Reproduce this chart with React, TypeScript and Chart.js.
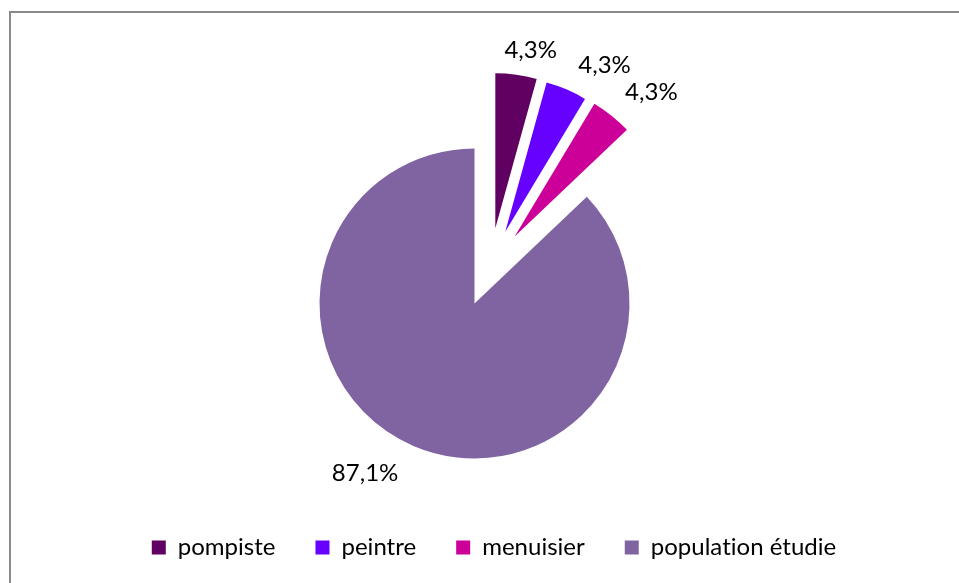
import React, { useEffect, useRef } from "react";
import { Chart, registerables } from "chart.js";

Chart.register(...registerables);

// ---- data ----
const categories = ["pompiste", "peintre", "menuisier", "population étudie"];
const percentages = [4.3, 4.3, 4.3, 87.1];
const sliceColors = ["#600060", "#6600FF", "#CC0099", "#8064A2"];

// ---- style ----
const FONT = "Lato, 'Open Sans', sans-serif";
const TEXT_SIZE = 24;
const PIE_RADIUS = 155;
const PIE_CENTER_Y = 303.5;
const LEGEND_ROW_Y = 547.5;
const LEGEND_PAD = 40;
const EXPLODE = [78, 78, 78, 0];
const PIE_SHIFT_X = -19.5;
// label placement: [degrees clockwise from 12 o'clock, distance px] from each slice's apex
const LABEL_POLAR: [number, number][] = [
  [11.2, 182],
  [30.8, 194],
  [43.4, 199],
  [212.8, 202],
];
const CANVAS_W = 988;
const CANVAS_H = 600;

const fmt = (v: number) => v.toFixed(1).replace(".", ",") + "%";

const explodePlugin = {
  id: "explodeAndLabels",
  beforeDraw(chart: any) {
    try {
      (chart.ctx as any).letterSpacing = "0.01px";
    } catch (e) {}
  },
  beforeDatasetsDraw(chart: any) {
    const meta = chart.getDatasetMeta(0);
    const area = chart.chartArea;
    const cx = (area.left + area.right) / 2 + PIE_SHIFT_X;
    const cy = (area.top + area.bottom) / 2;
    const arcs = meta.data as any[];
    const exploded = arcs.map((_, i) => (EXPLODE[i] > 0 ? i : -1)).filter((i) => i >= 0);
    let groupMid = 0;
    if (exploded.length) {
      groupMid = (arcs[exploded[0]].startAngle + arcs[exploded[exploded.length - 1]].endAngle) / 2;
    }
    arcs.forEach((arc, i) => {
      const d = EXPLODE[i] || 0;
      const mid = (arc.startAngle + arc.endAngle) / 2;
      const dir = (mid + groupMid) / 2;
      arc.x = cx + d * Math.cos(dir);
      arc.y = cy + d * Math.sin(dir);
    });
  },
  afterDatasetsDraw(chart: any) {
    const ctx = chart.ctx as CanvasRenderingContext2D;
    const arcs = chart.getDatasetMeta(0).data as any[];
    ctx.save();
    ctx.font = `${TEXT_SIZE}px ${FONT}`;
    ctx.fillStyle = "#000";
    ctx.textAlign = "center";
    ctx.textBaseline = "middle";
    arcs.forEach((arc, i) => {
      const [deg, dist] = LABEL_POLAR[i];
      const a = (deg * Math.PI) / 180;
      ctx.fillText(fmt(percentages[i]), arc.x + dist * Math.sin(a), arc.y - dist * Math.cos(a));
    });
    ctx.restore();
  },
};

export default function App() {
  const ref = useRef<HTMLCanvasElement | null>(null);

  useEffect(() => {
    if (!ref.current) return;
    // Chart.js horizontal legend height = itemHeight + padding + 10; rows start at top + padding
    const legendHeight = TEXT_SIZE + LEGEND_PAD + 10;
    const legendTop = LEGEND_ROW_Y - LEGEND_PAD - TEXT_SIZE / 2;
    const padBottom = CANVAS_H - (legendTop + legendHeight);
    const padTop = 2 * PIE_CENTER_Y - legendTop;
    const chart = new Chart(ref.current, {
      type: "pie",
      data: {
        labels: categories,
        datasets: [
          {
            data: percentages,
            backgroundColor: sliceColors,
            borderWidth: 0,
            radius: PIE_RADIUS,
            clip: false,
          } as any,
        ],
      },
      options: {
        responsive: false,
        animation: false,
        events: [],
        layout: { padding: { top: padTop, bottom: padBottom, left: 0, right: 0 } },
        plugins: {
          legend: {
            position: "bottom",
            labels: {
              boxWidth: 14,
              boxHeight: 14,
              padding: LEGEND_PAD,
              color: "#000",
              font: { family: FONT, size: TEXT_SIZE },
            },
          },
          tooltip: { enabled: false },
        },
      },
      plugins: [explodePlugin],
    });
    return () => chart.destroy();
  }, []);

  return (
    <div
      style={{
        position: "fixed",
        left: 0,
        top: 0,
        width: 959,
        height: 583,
        overflow: "hidden",
        background: "#fff",
      }}
    >
      <div
        style={{
          position: "absolute",
          left: 9,
          top: 11,
          width: 1200,
          height: 800,
          border: "2px solid #8a8a8a",
          boxSizing: "border-box",
        }}
      />
      <canvas
        ref={ref}
        width={CANVAS_W}
        height={CANVAS_H}
        style={{ position: "absolute", left: 0, top: 0, width: CANVAS_W, height: CANVAS_H }}
      />
    </div>
  );
}
